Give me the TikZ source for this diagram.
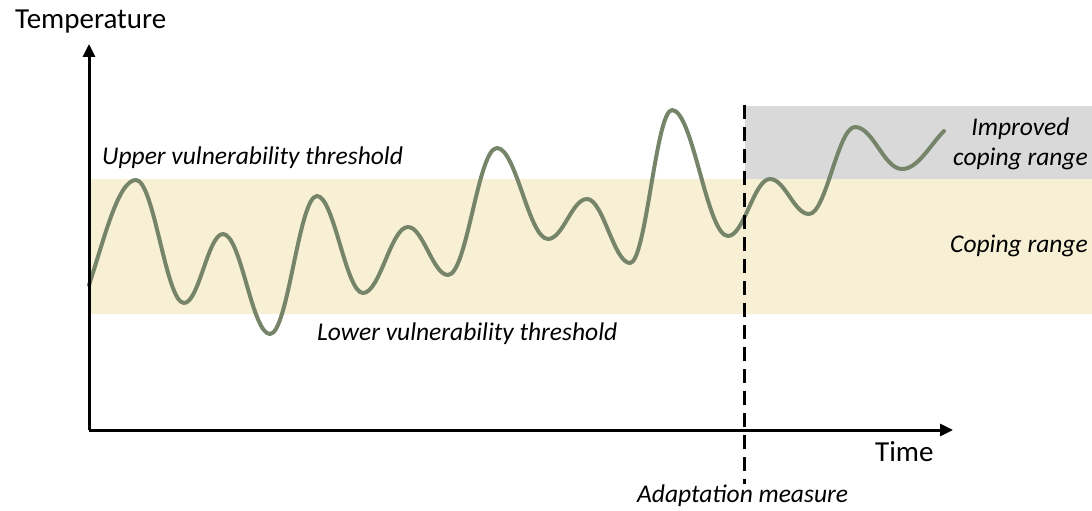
\documentclass[tikz,border=0pt]{standalone}
\usepackage{fontspec}
\setmainfont{Carlito}
\usetikzlibrary{arrows.meta}
\definecolor{bandbeige}{HTML}{F8F0D5}
\definecolor{bandgrey}{HTML}{D9D9D9}
\definecolor{curvegreen}{HTML}{76856A}
\begin{document}
\begin{tikzpicture}[x=1pt,y=-1pt,
  axis/.style={line width=3pt,-{Triangle[length=13pt,width=12pt]}},
  lbl/.style={font=\fontsize{25.5}{30}\selectfont\itshape,inner sep=0pt},
  axlbl/.style={font=\fontsize{29}{33}\selectfont,inner sep=0pt},
  temp/.style={line width=4pt,color=curvegreen,line cap=round,line join=round}]
\useasboundingbox (0,0) rectangle (1092,511);
% ranges
\fill[bandbeige] (89,179) rectangle (1092,314);
\fill[bandgrey] (745,106) rectangle (1092,179);
% temperature series
\draw[temp] (89,285)
  .. controls +(15,-45) and +(-18,0) .. (136,180)
  .. controls +(18,0) and +(-18,0) .. (184,303)
  .. controls +(15,0) and +(-15,0) .. (223,234)
  .. controls +(18,0) and +(-18,0) .. (270,334)
  .. controls +(18,0) and +(-18,0) .. (317,196)
  .. controls +(17,0) and +(-17,0) .. (363,293)
  .. controls +(17,0) and +(-17,0) .. (408,227)
  .. controls +(15,0) and +(-15,0) .. (448,275)
  .. controls +(19,0) and +(-19,0) .. (497,148)
  .. controls +(19,0) and +(-19,0) .. (548,239)
  .. controls +(15,0) and +(-15,0) .. (587,199)
  .. controls +(16,0) and +(-16,0) .. (630,263)
  .. controls +(16,0) and +(-16,0) .. (672,110)
  .. controls +(21,0) and +(-21,0) .. (728,236)
  .. controls +(16,0) and +(-16,0) .. (770,179)
  .. controls +(15,0) and +(-15,0) .. (809,214)
  .. controls +(17,0) and +(-17,0) .. (855,127)
  .. controls +(18,0) and +(-18,0) .. (902,169)
  .. controls +(16,0) and +(-14,14) .. (944,131);
% axes
\coordinate (origin) at (89,430);
\coordinate (ytip) at (89,44);
\coordinate (xtip) at (953,430);
\draw[axis] (origin) -- (ytip);
\draw[axis] (origin) -- (xtip);
% adaptation measure
\coordinate (adtop) at (744,105);
\coordinate (adbot) at (744,484);
\draw[line width=3pt,dash pattern=on 14pt off 8pt] (adtop) -- (adbot);
% labels
\node[axlbl,anchor=west] (tlab) at (15,22) {Temperature};
\node[axlbl,anchor=west] (timelab) at (875,452) {Time};
\node[lbl,anchor=west] (upper) at (102,158) {Upper vulnerability threshold};
\node[lbl,anchor=west] (lower) at (317,334) {Lower vulnerability threshold};
\node[lbl,anchor=west] (adapt) at (637,496) {Adaptation measure};
\node[lbl,anchor=east] (coping) at (1088,246) {Coping range};
\node[lbl,anchor=east,align=center] (improved) at (1088,144) {Improved\\coping range};
\end{tikzpicture}
\end{document}
